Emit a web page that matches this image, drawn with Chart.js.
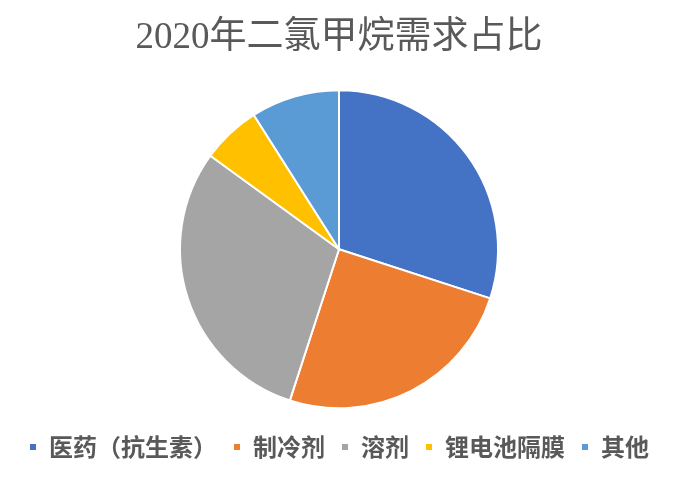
<!DOCTYPE html>
<html>
<head>
<meta charset="utf-8">
<script src="https://cdn.jsdelivr.net/npm/chart.js@4/dist/chart.umd.min.js"></script>
<style>
  html, body { margin: 0; padding: 0; background: #fff; }
  #wrap { width: 678px; height: 480px; }
</style>
</head>
<body>
<div id="wrap"><canvas id="pieChart" width="678" height="480"></canvas></div>
<script>
  // data (percent)
  const categories = ["医药（抗生素）", "制冷剂", "溶剂", "锂电池隔膜", "其他"];
  const shares = [30, 25, 30, 6, 9];
  const sliceColors = ["#4472C4", "#ED7D31", "#A5A5A5", "#FFC000", "#5B9BD5"];
  const chartTitle = "2020年二氯甲烷需求占比";

  const ctx = document.getElementById("pieChart").getContext("2d");
  new Chart(ctx, {
    type: "pie",
    data: {
      labels: categories,
      datasets: [
        {
          data: shares,
          backgroundColor: sliceColors,
          borderColor: "#ffffff",
          borderWidth: 2,
          radius: 159,
        },
      ],
    },
    options: {
      responsive: false,
      animation: false,
      layout: {
        padding: { top: 0, bottom: 11, left: 0, right: 0 },
      },
      plugins: {
        title: {
          display: true,
          text: chartTitle,
          color: "#595959",
          font: { family: "'Liberation Serif', 'Noto Sans CJK SC'", size: 37, weight: "normal" },
          padding: { top: 16, bottom: 19 },
        },
        legend: {
          display: true,
          position: "bottom",
          labels: {
            color: "#595959",
            font: { family: "'Noto Sans CJK SC'", size: 24, weight: "bold" },
            boxWidth: 8,
            boxHeight: 8,
            padding: 16,
          },
        },
        tooltip: { enabled: false },
      },
    },
  });
</script>
</body>
</html>
